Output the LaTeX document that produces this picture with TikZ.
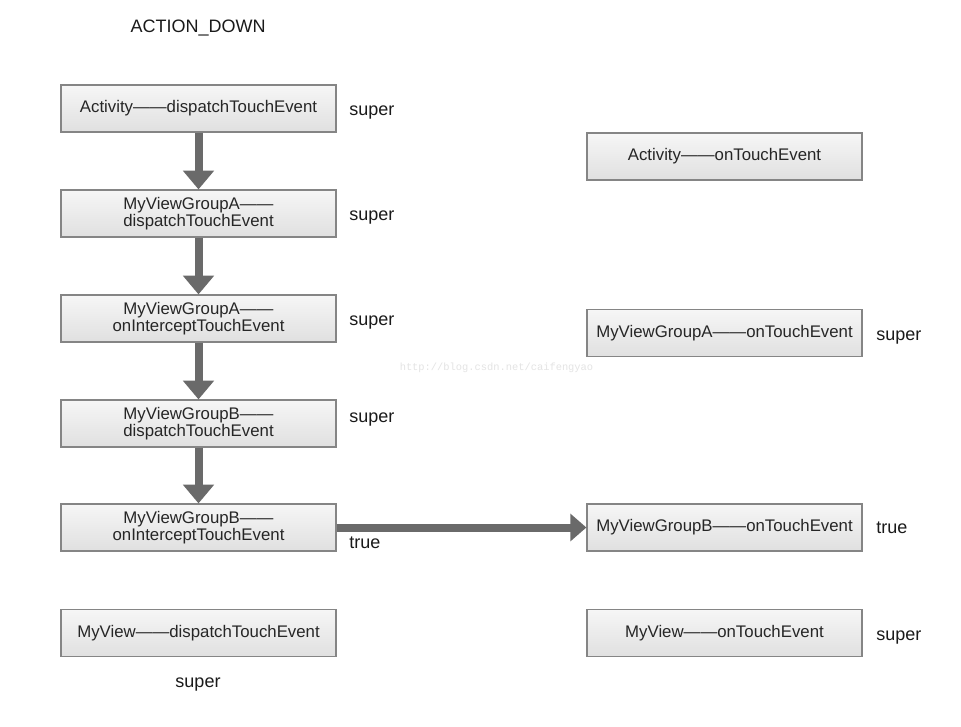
\documentclass[tikz,border=0pt]{standalone}
\usepackage{fontspec}
\setmainfont{Liberation Sans}
\newfontfamily\wmfont{Liberation Mono}
\usetikzlibrary{arrows.meta}
\definecolor{boxline}{HTML}{858585}
\definecolor{boxtop}{HTML}{F6F6F6}
\definecolor{boxbot}{HTML}{E0E0E0}
\definecolor{boxtext}{HTML}{262626}
\definecolor{arrowc}{HTML}{6A6A6A}
\definecolor{lbltext}{HTML}{1A1A1A}
\definecolor{wmc}{HTML}{E4E4E4}
\begin{document}
\begin{tikzpicture}[x=0.75pt,y=-0.75pt,
 box/.style={draw=boxline, line width=0.9pt, top color=boxtop, bottom color=boxbot,
   minimum width=206.25pt, minimum height=35.25pt, inner sep=0pt, align=center,
   font=\fontsize{12.6}{13}\selectfont, text=boxtext},
 lbl/.style={font=\fontsize{13.5}{15}\selectfont, text=lbltext, inner sep=0pt},
 vflow/.style={draw=arrowc, line width=6pt, -{Triangle[width=22.5pt,length=14pt]}},
 hflow/.style={draw=arrowc, line width=6pt, -{Triangle[width=20pt,length=12pt]}}
]
\fill[white] (0,0) rectangle (961,726);
\useasboundingbox (0,0) rectangle (961,726);

% left column
\node[box] (b1) at (198.5,108.5) {Activity——dispatchTouchEvent};
\node[box] (b2) at (198.5,213.5) {MyViewGroupA——\\dispatchTouchEvent};
\node[box] (b3) at (198.5,318.5) {MyViewGroupA——\\onInterceptTouchEvent};
\node[box] (b4) at (198.5,423.5) {MyViewGroupB——\\dispatchTouchEvent};
\node[box] (b5) at (198.5,527.5) {MyViewGroupB——\\onInterceptTouchEvent};
\node[box] (b6) at (198.5,633) {MyView——dispatchTouchEvent};

% right column
\node[box] (r1) at (724.5,156.5) {Activity——onTouchEvent};
\node[box] (r2) at (724.5,333) {MyViewGroupA——onTouchEvent};
\node[box] (r3) at (724.5,527.5) {MyViewGroupB——onTouchEvent};
\node[box] (r4) at (724.5,633) {MyView——onTouchEvent};

% arrows
\draw[vflow] (b1.south) -- (b2.north);
\draw[vflow] (b2.south) -- (b3.north);
\draw[vflow] (b3.south) -- (b4.north);
\draw[vflow] (b4.south) -- (b5.north);
\draw[hflow] (b5.east) -- (r3.west);

% labels
\node[lbl, anchor=base] (title) at (198,32.5) {ACTION\_DOWN};
\node[lbl, anchor=base west] (s1) at (349,115) {super};
\node[lbl, anchor=base west] (s2) at (349,220) {super};
\node[lbl, anchor=base west] (s3) at (349,325) {super};
\node[lbl, anchor=base west] (s4) at (349,422) {super};
\node[lbl, anchor=base west] (t5) at (349,548) {true};
\node[lbl, anchor=base] (s6) at (198,687) {super};
\node[lbl, anchor=base west] (rs2) at (876,340) {super};
\node[lbl, anchor=base west] (rt3) at (876,533) {true};
\node[lbl, anchor=base west] (rs4) at (876,640) {super};

% watermark
\node[inner sep=0pt, text=wmc, font=\wmfont\fontsize{7.8}{8}\selectfont] (wm) at (496.5,368) {http://blog.csdn.net/caifengyao};
\end{tikzpicture}
\end{document}
